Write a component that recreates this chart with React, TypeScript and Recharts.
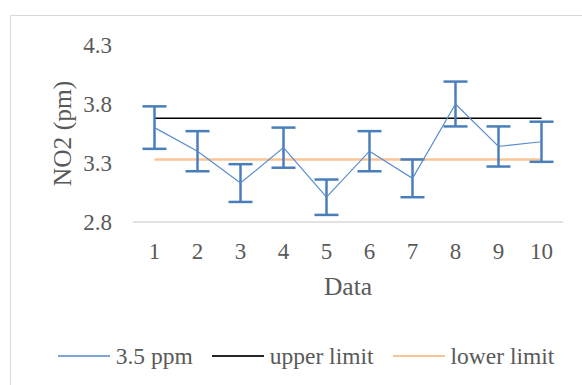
import { ErrorBar, Label, Legend, Line, LineChart, XAxis, YAxis } from "recharts";

// values
const categories = ["1", "2", "3", "4", "5", "6", "7", "8", "9", "10"];
const no2Values = [3.6, 3.4, 3.13, 3.43, 3.01, 3.4, 3.17, 3.8, 3.44, 3.48];
const no2Errors = [0.18, 0.17, 0.16, 0.17, 0.15, 0.17, 0.16, 0.19, 0.17, 0.17];
const upperLimit = [3.68, 3.68, 3.68, 3.68, 3.68, 3.68, 3.68, 3.68, 3.68, 3.68];
const lowerLimit = [3.33, 3.33, 3.33, 3.33, 3.33, 3.33, 3.33, 3.33, 3.33, 3.33];
const yTicks = [2.8, 3.3, 3.8, 4.3];

const data = categories.map((name, i) => ({
  name,
  no2: no2Values[i],
  err: no2Errors[i],
  upper: upperLimit[i],
  lower: lowerLimit[i],
}));

const FONT = '"Liberation Serif", "Times New Roman", serif';
const TEXT = "#595959";

const legendItems = [
  { label: "3.5 ppm", color: "#7ea3d6", width: 1.5 },
  { label: "upper limit", color: "#262626", width: 1.5 },
  { label: "lower limit", color: "#f8c496", width: 2 },
];

function ChartLegend() {
  return (
    <div
      style={{
        display: "flex",
        justifyContent: "center",
        alignItems: "center",
        height: 34,
        fontFamily: FONT,
        fontSize: 23.5,
        color: TEXT,
        paddingLeft: 30,
      }}
    >
      {legendItems.map((item, i) => (
        <div
          key={item.label}
          style={{ display: "flex", alignItems: "center", marginLeft: i === 0 ? 0 : 19 }}
        >
          <div style={{ width: 52, height: item.width, background: item.color, marginRight: 6 }} />
          <span>{item.label}</span>
        </div>
      ))}
    </div>
  );
}

export default function App() {
  return (
    <div
      style={{
        position: "absolute",
        left: 0,
        top: 0,
        width: 582,
        height: 385,
        overflow: "hidden",
        background: "#fff",
      }}
    >
      <div
        style={{
          position: "absolute",
          left: 10,
          top: 15,
          width: 620,
          height: 420,
          border: "1.5px solid #d9d9d9",
        }}
      />
      <div style={{ position: "absolute", left: 0, top: 0 }}>
        <LineChart
          width={582}
          height={385}
          data={data}
          margin={{ top: 45, right: 19, bottom: 29, left: 73 }}
        >
          <XAxis
            dataKey="name"
            height={100}
            padding={{ left: 21.5, right: 21.5 }}
            tickLine={false}
            tickSize={0}
            tickMargin={21}
            axisLine={{ stroke: "#d9d9d9", strokeWidth: 1.5 }}
            tick={{ fill: TEXT, fontSize: 23, fontFamily: FONT }}
            interval={0}
          >
            <Label
              value="Data"
              position="insideTop"
              offset={55}
              style={{ fill: TEXT, fontSize: 25.5, fontFamily: FONT }}
            />
          </XAxis>
          <YAxis
            width={60}
            domain={[2.8, 4.3]}
            ticks={yTicks}
            tickFormatter={(v: number) => v.toFixed(1)}
            tickLine={false}
            axisLine={false}
            tickSize={0}
            tickMargin={21}
            tick={{ fill: TEXT, fontSize: 23, fontFamily: FONT }}
          >
            <Label
              value="NO2 (pm)"
              angle={-90}
              position="center"
              dx={-41}
              style={{ fill: TEXT, fontSize: 25.5, fontFamily: FONT }}
            />
          </YAxis>
          <Legend
            verticalAlign="bottom"
            wrapperStyle={{ left: 0, top: 339, width: 582, height: 34 }}
            content={() => <ChartLegend />}
          />
          <Line
            dataKey="lower"
            name="lower limit"
            stroke="#f8c496"
            strokeWidth={2.5}
            dot={false}
            isAnimationActive={false}
          />
          <Line
            dataKey="upper"
            name="upper limit"
            stroke="#000"
            strokeWidth={1.5}
            dot={false}
            isAnimationActive={false}
          />
          <Line
            dataKey="no2"
            name="3.5 ppm"
            stroke="#5b8cd0"
            strokeWidth={1.2}
            dot={false}
            isAnimationActive={false}
          >
            <ErrorBar
              dataKey="err"
              width={12}
              strokeWidth={2.5}
              stroke="#4a7ebb"
              isAnimationActive={false}
            />
          </Line>
        </LineChart>
      </div>
    </div>
  );
}
